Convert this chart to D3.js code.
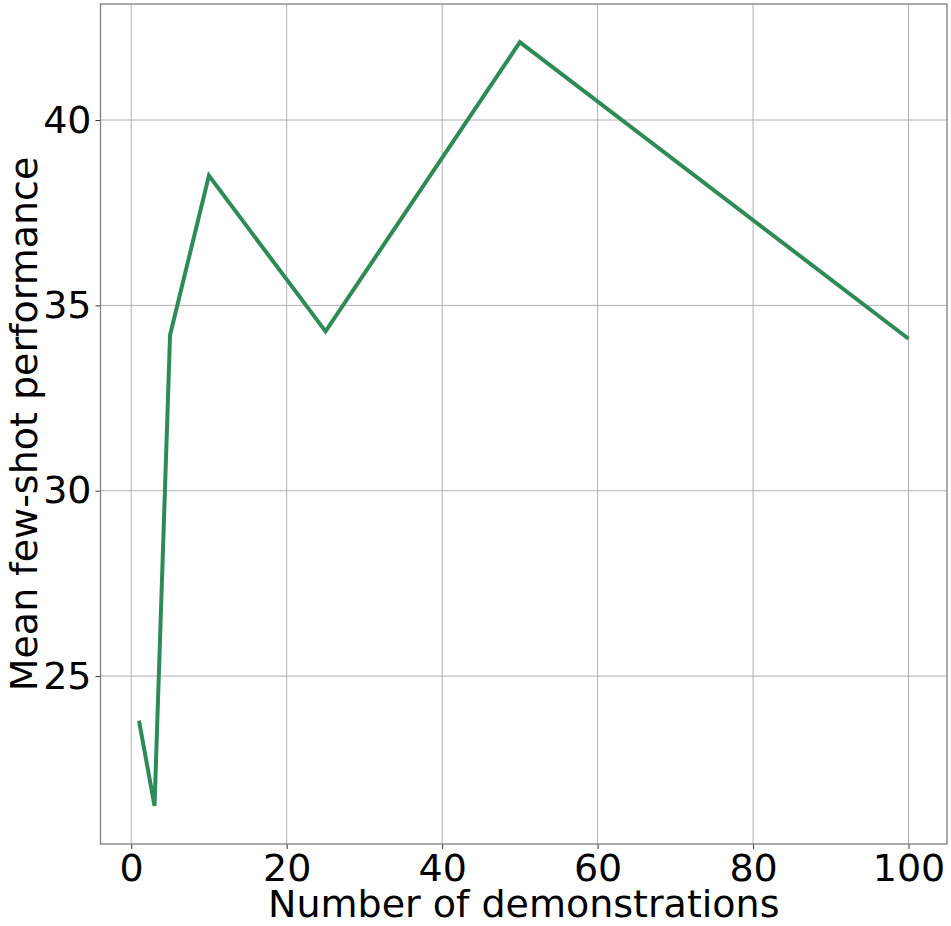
<!DOCTYPE html>
<html>
<head>
<meta charset="utf-8">
<script src="https://d3js.org/d3.v7.min.js"></script>
<style>
  body { margin: 0; background: white; }
  text { font-family: 'DejaVu Sans', sans-serif; }
</style>
</head>
<body>
<svg id="chart" width="951" height="926"></svg>
<script>
// data
var demos = [1, 3, 5, 10, 25, 50, 100];
var perf = [23.8, 21.5, 34.2, 38.5, 34.3, 42.1, 34.1];
var xTicks = [0, 20, 40, 60, 80, 100];
var yTicks = [25, 30, 35, 40];

var svg = d3.select("#chart");
var plotL = 100.5, plotR = 947, plotT = 4, plotB = 844;
var fs = 38;

var x = d3.scaleLinear().domain([-3.95, 104.95]).range([plotL, plotR]);
var y = d3.scaleLinear().domain([20.47, 43.13]).range([plotB, plotT]);

// grid
svg.append("g").selectAll("line").data(xTicks).enter().append("line")
  .attr("x1", function(d) { return x(d); }).attr("x2", function(d) { return x(d); })
  .attr("y1", plotT).attr("y2", plotB)
  .attr("stroke", "#b0b0b0").attr("stroke-width", 1);
svg.append("g").selectAll("line").data(yTicks).enter().append("line")
  .attr("y1", function(d) { return y(d); }).attr("y2", function(d) { return y(d); })
  .attr("x1", plotL).attr("x2", plotR)
  .attr("stroke", "#b0b0b0").attr("stroke-width", 1);

// axes
var xAxis = svg.append("g").attr("transform", "translate(0," + plotB + ")")
  .call(d3.axisBottom(x).tickValues(xTicks).tickSize(5).tickPadding(5));
var yAxis = svg.append("g").attr("transform", "translate(" + plotL + ",0)")
  .call(d3.axisLeft(y).tickValues(yTicks).tickSize(5).tickPadding(4));
[xAxis, yAxis].forEach(function(a) {
  a.select(".domain").remove();
  a.selectAll("line").attr("stroke", "#333");
  a.selectAll("text").attr("font-size", fs).attr("fill", "black")
    .style("font-family", "'DejaVu Sans', sans-serif");
});

// frame
svg.append("rect").attr("x", plotL).attr("y", plotT)
  .attr("width", plotR - plotL).attr("height", plotB - plotT)
  .attr("fill", "none").attr("stroke", "#808080").attr("stroke-width", 1.3);

// line
var line = d3.line()
  .x(function(d, i) { return x(demos[i]); })
  .y(function(d) { return y(d); });
svg.append("path").datum(perf)
  .attr("d", line)
  .attr("fill", "none")
  .attr("stroke", "#2e8b57")
  .attr("stroke-width", 4)
  .attr("stroke-linejoin", "miter");

// labels
svg.append("text").attr("x", (plotL + plotR) / 2).attr("y", 917)
  .attr("text-anchor", "middle").attr("font-size", fs)
  .text("Number of demonstrations");
svg.append("text")
  .attr("transform", "translate(37," + ((plotT + plotB) / 2) + ") rotate(-90)")
  .attr("text-anchor", "middle").attr("font-size", fs)
  .text("Mean few-shot performance");
</script>
</body>
</html>
